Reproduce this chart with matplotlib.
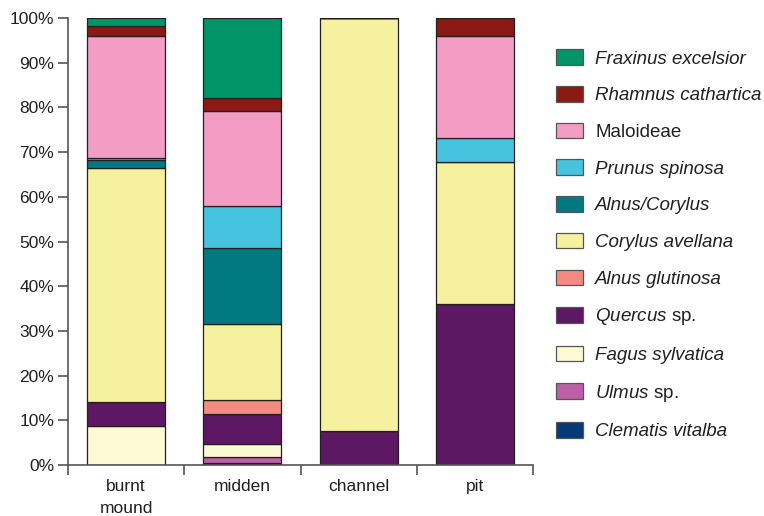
import numpy as np
import matplotlib.pyplot as plt
from matplotlib.ticker import FixedLocator

plt.rcParams['font.family'] = ['Liberation Sans', 'DejaVu Sans']
plt.rcParams['mathtext.fontset'] = 'custom'
plt.rcParams['mathtext.it'] = 'Liberation Sans:italic'
plt.rcParams['mathtext.rm'] = 'Liberation Sans'

# -----------------------------
# Data (percent of charcoal fragments), stacked bottom -> top
# -----------------------------
categories = ["burnt\nmound", "midden", "channel", "pit"]

species = [
    "Clematis vitalba",
    "Ulmus sp.",
    "Fagus sylvatica",
    "Quercus sp.",
    "Alnus glutinosa",
    "Corylus avellana",
    "Alnus/Corylus",
    "Prunus spinosa",
    "Maloideae",
    "Rhamnus cathartica",
    "Fraxinus excelsior",
]

clematis = [0.0, 0.5, 0.0, 0.0]
ulmus = [0.0, 1.3, 0.0, 0.0]
fagus = [8.8, 3.0, 0.0, 0.0]
quercus = [5.4, 6.7, 7.5, 36.1]
alnus_glut = [0.0, 3.1, 0.0, 0.0]
corylus_av = [52.2, 16.9, 92.5, 31.6]
alnus_cor = [1.9, 17.0, 0.0, 0.0]
prunus = [0.4, 9.4, 0.0, 5.5]
maloideae = [27.2, 21.4, 0.0, 22.7]
rhamnus = [2.3, 2.7, 0.0, 4.1]
fraxinus = [1.8, 18.0, 0.0, 0.0]

values = [clematis, ulmus, fagus, quercus, alnus_glut, corylus_av,
          alnus_cor, prunus, maloideae, rhamnus, fraxinus]

colors = ["#063a76", "#bc5fa6", "#fdf9d2", "#5c1862", "#f48a80", "#f6f19f",
          "#007a80", "#45c3df", "#f39dc4", "#8b1a14", "#009466"]

# legend labels (italic genus names, "sp." upright)
labels = {
    "Quercus sp.": r"$\mathit{Quercus}$ sp.",
    "Ulmus sp.": r"$\mathit{Ulmus}$ sp.",
}

# -----------------------------
# Plot
# -----------------------------
fig = plt.figure(figsize=(7.64, 5.16), dpi=100)
ax = fig.add_axes([0.089, 0.0988, 0.6087, 0.8663])

x = np.arange(len(categories))
bottom = np.zeros(len(categories))
handles = []
for name, vals, col in zip(species, values, colors):
    vals = np.array(vals)
    b = ax.bar(x, vals, width=0.67, bottom=bottom, color=col,
               edgecolor="#231f20", linewidth=0.9, zorder=2)
    handles.append((name, b))
    bottom += vals

ax.set_xlim(-0.5, 3.5)
ax.set_ylim(0, 100)
ax.set_yticks(np.arange(0, 101, 10))
ax.set_yticklabels([f"{v}%" for v in range(0, 101, 10)])

ax.set_xticks(x)
ax.set_xticklabels(categories, linespacing=1.55)
ax.xaxis.set_minor_locator(FixedLocator([-0.5, 0.5, 1.5, 2.5, 3.5]))
ax.tick_params(axis="x", which="major", length=0, pad=10, labelsize=12.5,
               colors="#231f20")
ax.tick_params(axis="x", which="minor", length=7, width=1.2, color="#555555")
ax.tick_params(axis="y", length=7, width=1.2, color="#555555", pad=3,
               labelsize=12.5, labelcolor="#231f20")

for side in ["top", "right"]:
    ax.spines[side].set_visible(False)
for side in ["left", "bottom"]:
    ax.spines[side].set_color("#555555")
    ax.spines[side].set_linewidth(1.2)

# legend, top to bottom = reverse stacking order
leg_handles = [h for _, h in handles][::-1]
leg_names = [n for n, _ in handles][::-1]
leg_labels = [labels.get(n, n) for n in leg_names]
leg = fig.legend(leg_handles, leg_labels, loc="upper left",
                 bbox_to_anchor=(0.718, 0.919), frameon=False, fontsize=13.5,
                 handlelength=1.44, handleheight=0.9, handletextpad=0.64,
                 labelspacing=0.985, borderaxespad=0)
for txt, name in zip(leg.get_texts(), leg_names):
    txt.set_color("#231f20")
    if name != "Maloideae" and "sp." not in name:
        txt.set_fontstyle("italic")
for p in leg.get_patches():
    p.set_edgecolor("#555555")

fig.savefig("out.png", dpi=100)
